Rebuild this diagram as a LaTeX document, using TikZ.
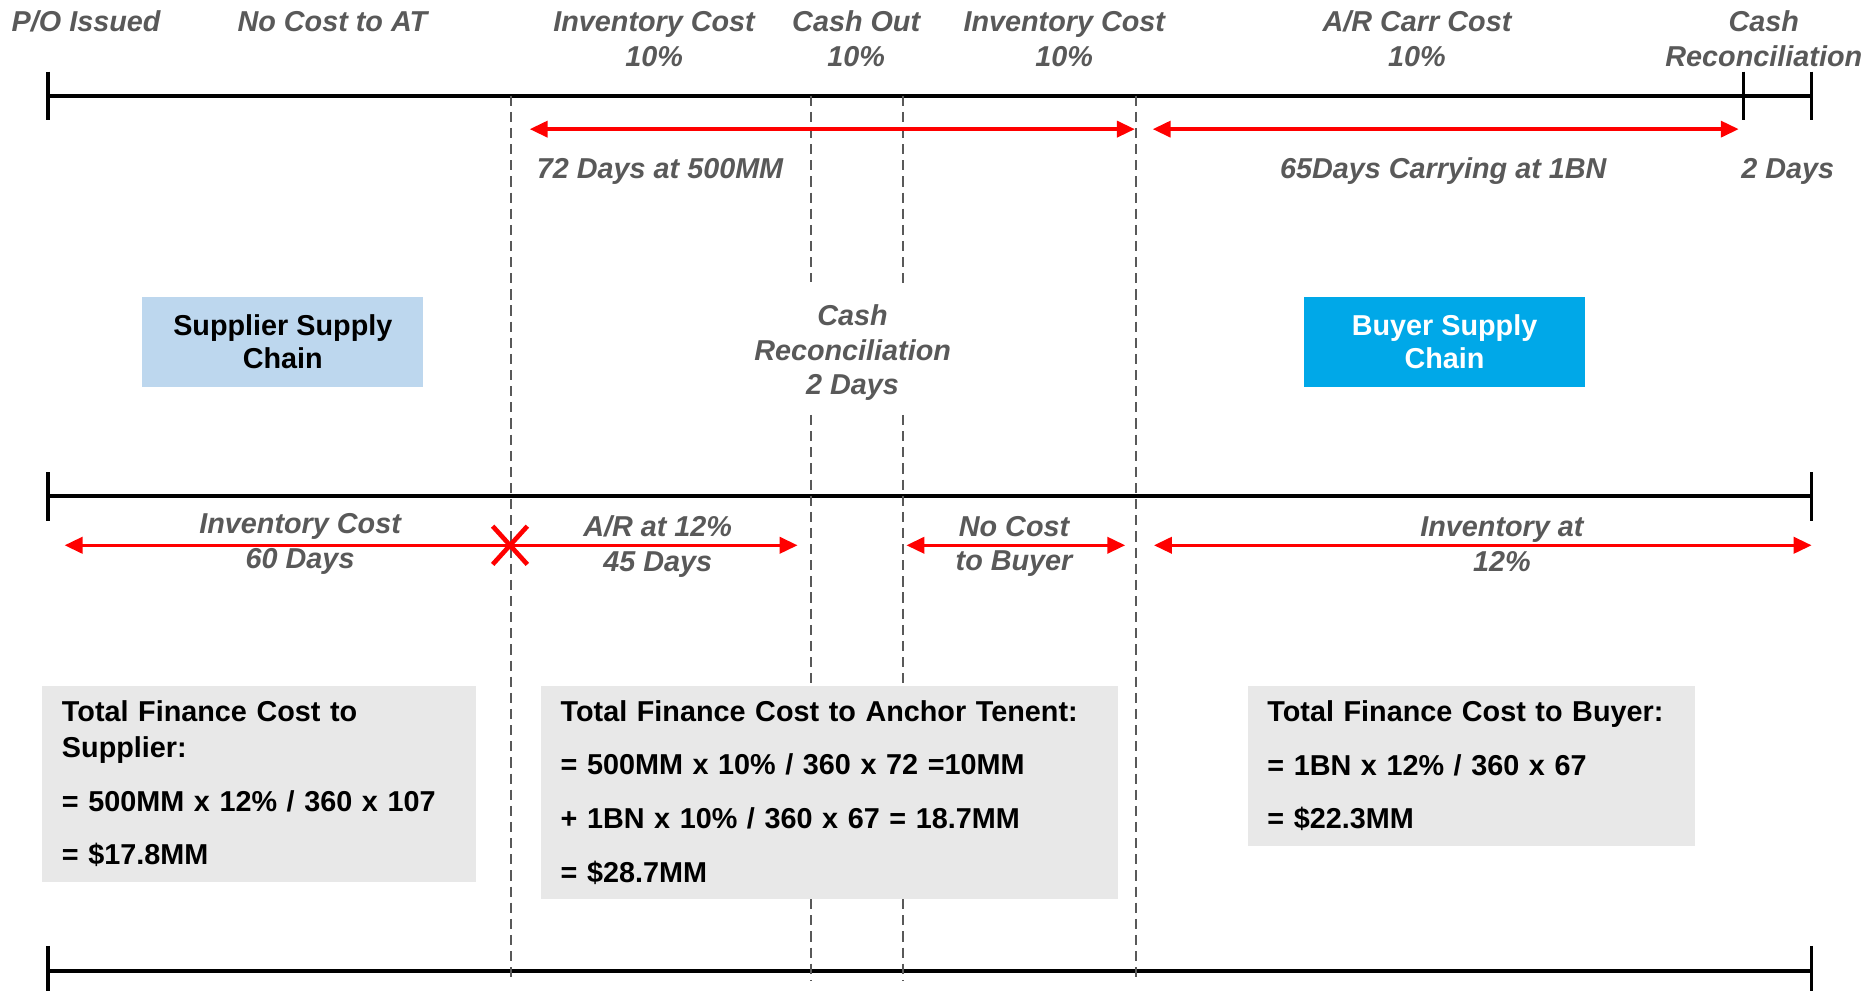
\documentclass[tikz,border=0pt]{standalone}
\usepackage{fontspec}
\setmainfont{Liberation Sans}
\usetikzlibrary{arrows.meta}
\definecolor{labelgray}{HTML}{595959}
\definecolor{boxgray}{HTML}{E8E8E8}
\definecolor{supblue}{HTML}{BDD7EE}
\definecolor{buyblue}{HTML}{00A8E8}
\begin{document}
\begin{tikzpicture}[x=0.02cm,y=-0.02cm,
    lbl/.style={text=labelgray,font=\fontsize{13.7}{16.5}\selectfont\bfseries\itshape,align=center,inner sep=0pt},
    axis/.style={line width=1.9pt},
    tick/.style={line width=1.7pt},
    divider/.style={labelgray,line width=1pt,dash pattern=on 0.17cm off 0.1cm},
    span/.style={red,line width=1.6pt,{Triangle[length=0.3cm,width=0.27cm]}-{Triangle[length=0.3cm,width=0.27cm]}},
    chain/.style={font=\fontsize{13.7}{15.9}\selectfont\bfseries,align=center,minimum width=4.7cm,minimum height=1.52cm},
    costbox/.style={fill=boxgray,anchor=north west,align=left,inner xsep=0.33cm,inner ysep=0pt,font=\fontsize{13.7}{25.5}\selectfont\bfseries}]
    \useasboundingbox (0,0) rectangle (1568,828);
    % time lines
    \coordinate (top0) at (40,80);
    \coordinate (top1) at (1515,80);
    \coordinate (mid0) at (40,415);
    \coordinate (mid1) at (1515,415);
    \coordinate (bot0) at (40,812);
    \coordinate (bot1) at (1515,812);
    \draw[axis] (top0) -- (top1);
    \draw[axis] (mid0) -- (mid1);
    \draw[axis] (bot0) -- (bot1);
    \draw[tick] (40,60) -- (40,100);
    \draw[tick] (1458,60) -- (1458,100);
    \draw[tick] (1515,60) -- (1515,100);
    \draw[tick] (40,395) -- (40,436);
    \draw[tick] (1515,395) -- (1515,436);
    \draw[tick] (40,791) -- (40,830);
    \draw[tick] (1515,791) -- (1515,830);
    % dividers
    \draw[divider] (427,80) -- (427,820);
    \draw[divider] (678,80) -- (678,236);
    \draw[divider] (678,347) -- (678,820);
    \draw[divider] (755,80) -- (755,238);
    \draw[divider] (755,347) -- (755,820);
    \draw[divider] (950,80) -- (950,820);
    % top labels
    \node[lbl] (po) at (72,18) {P/O Issued};
    \node[lbl] (nocost) at (278,18) {No Cost to AT};
    \node[lbl] (invA) at (547,32.5) {Inventory Cost\\10\%};
    \node[lbl] (cashout) at (716,32.5) {Cash Out\\10\%};
    \node[lbl] (invB) at (890,32.5) {Inventory Cost\\10\%};
    \node[lbl] (arcarr) at (1185,32.5) {A/R Carr Cost\\10\%};
    \node[lbl] (cashrec) at (1475,32.5) {Cash\\Reconciliation};
    % top spans
    \coordinate (s1a) at (443,108);
    \coordinate (s1b) at (949,108);
    \coordinate (s2a) at (964,108);
    \coordinate (s2b) at (1454,108);
    \draw[span] (s1a) -- (s1b);
    \draw[span] (s2a) -- (s2b);
    \node[lbl] (d72) at (552,143) {72 Days at 500MM};
    \node[lbl] (d65) at (1207,143) {65Days Carrying at 1BN};
    \node[lbl] (d2) at (1495,143) {2 Days};
    % supply chains
    \node[chain,fill=supblue] (supchain) at (236.5,286) {Supplier Supply\\Chain};
    \node[chain,fill=buyblue,text=white] (buychain) at (1208,286) {Buyer Supply\\Chain};
    \node[lbl] (recmid) at (713,295) {Cash\\Reconciliation\\2 Days};
    % lower spans
    \coordinate (b1a) at (54,456);
    \coordinate (b1b) at (667,456);
    \coordinate (b2a) at (758,456);
    \coordinate (b2b) at (941,456);
    \coordinate (b3a) at (965,456);
    \coordinate (b3b) at (1515,456);
    \draw[span] (b1a) -- (b1b);
    \draw[span] (b2a) -- (b2b);
    \draw[span] (b3a) -- (b3b);
    \draw[red,line width=2.2pt] (412,440) -- (441,472) (412,472) -- (441,440);
    \node[lbl] (inv60) at (251,455) {Inventory Cost\\60 Days};
    \node[lbl] (ar45) at (550,457) {A/R at 12\%\\45 Days};
    \node[lbl] (nobuyer) at (848,457) {No Cost\\to Buyer};
    \node[lbl] (inv12) at (1256,455) {Inventory at\\12\%};
    % finance cost boxes
    \node[costbox,text width=6.6cm,minimum height=3.29cm] (supcost) at (35,573)
        {Total Finance Cost to\\[-8.5pt]Supplier:\\= 500MM x 12\% / 360 x 107\\= \$17.8MM};
    \node[costbox,text width=9.0cm,minimum height=3.57cm] (atcost) at (452,573)
        {Total Finance Cost to Anchor Tenent:\\= 500MM x 10\% / 360 x 72 =10MM\\+ 1BN x 10\% / 360 x 67 = 18.7MM\\= \$28.7MM};
    \node[costbox,text width=6.83cm,minimum height=2.69cm] (buycost) at (1043,573)
        {Total Finance Cost to Buyer:\\= 1BN x 12\% / 360 x 67\\= \$22.3MM};
\end{tikzpicture}
\end{document}
